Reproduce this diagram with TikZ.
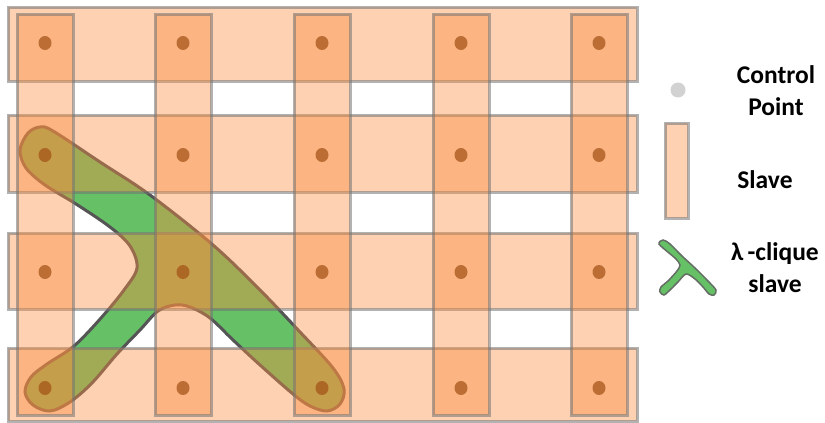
\documentclass[tikz,border=0pt]{standalone}
\usepackage{fontspec}
\setmainfont{Carlito}
\definecolor{bandfill}{RGB}{250,140,60}
\definecolor{bandline}{RGB}{115,115,115}
\definecolor{dotc}{RGB}{165,85,25}
\definecolor{lamb}{RGB}{102,192,102}
\definecolor{lambline}{RGB}{85,85,85}
\definecolor{legline}{RGB}{100,110,100}
\tikzset{
  band/.style={fill=bandfill, fill opacity=0.4, draw=bandline, draw opacity=0.55, line width=3pt},
  cp/.style={fill=dotc, fill opacity=0.75},
  lab/.style={font=\fontsize{25.5}{32}\selectfont\bfseries, align=center, inner sep=0pt},
  lam/.pic={
    \path[pic actions] plot[smooth cycle, tension=0.55] coordinates {
      (28,133) (40,127) (53,131) (100,162) (150,195) (213,245) (260,290)
      (300,332) (333,368) (344,389) (340,404) (327,411) (310,406) (293,394)
      (260,365) (233,340) (210,318) (190,307) (175,305) (158,311) (140,330)
      (117,354) (92,383) (70,402) (50,411) (33,405) (25,392) (31,377)
      (47,364) (74,346) (101,318) (124,290) (137,268) (130,246) (110,227)
      (76,204) (45,185) (26,168) (20,150)};
  }
}
\begin{document}
\begin{tikzpicture}[x=1pt, y=-1pt]
\useasboundingbox (0,0) rectangle (825,423);
% lambda-clique slave
\pic[fill=lamb, draw=lambline, line width=3] {lam};
% horizontal slaves
\foreach \t/\b in {7/81,115/192,233/309,348/421}
  \draw[band] (8,\t) rectangle (637,\b);
% vertical slaves
\foreach \l in {17,155,294,433,571}
  \draw[band] (\l,14) rectangle ({\l+56},415);
% control points
\foreach \x in {45,183,322,461,599}
  \foreach \y in {43,155,272,388}
    \fill[cp] (\x,\y) ellipse [x radius=6.5, y radius=7];
% legend
\fill[gray!35] (678,90) circle [radius=7.5];
\draw[band] (665,123) rectangle (688,218);
\draw[fill=lamb, draw=legline, line width=1.5] plot[smooth cycle, tension=0.5] coordinates {
  (659,244) (663,240) (670,244) (682,256) (695,268) (708,281) (716,290)
  (714,295) (709,294) (703,287) (695,279) (686,274) (678,282) (670,290)
  (664,295) (660,292) (661,287) (668,281) (677,271) (680,265) (676,259)
  (669,253)};
\node[lab] (cpt) at (776,91) {Control\\Point};
\node[lab] (slv) at (765,180) {Slave};
\node[lab] (lcq) at (775,268) {λ\hspace{4pt}-clique\\slave};
\end{tikzpicture}
\end{document}
